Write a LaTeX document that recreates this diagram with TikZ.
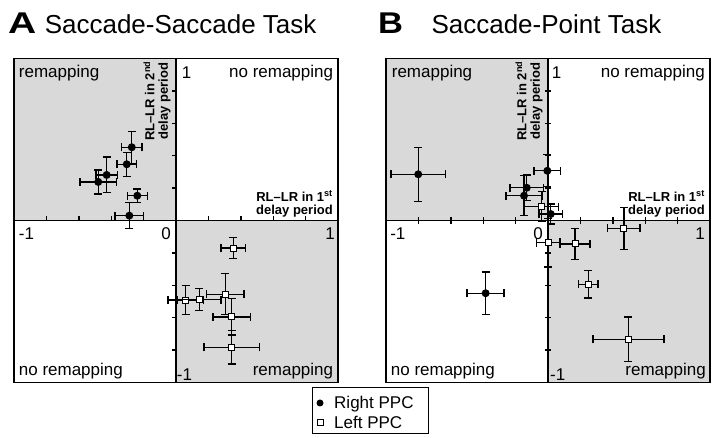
\documentclass[tikz,border=0pt]{standalone}
\usepackage{fontspec}
\setmainfont{Liberation Sans}
\usetikzlibrary{positioning}

\begin{document}
\begin{tikzpicture}[x=1pt,y=1pt,
  quad/.style={font=\fontsize{17}{20}\selectfont,inner sep=0pt},
  axlab/.style={font=\fontsize{13}{13.5}\selectfont\bfseries,inner sep=0pt,align=center},
  panlab/.style={font=\fontsize{30}{30}\selectfont\bfseries,inner sep=0pt},
  tasklab/.style={font=\fontsize{26}{26}\selectfont,inner sep=0pt},
  errbar/.style={line width=1.4pt},
  frame/.style={line width=1.5pt},
  shade/.style={fill=black!15},
  rppc/.style={fill=black},
  lppc/.style={fill=white,draw=black,line width=1pt}]
\useasboundingbox (0,0) rectangle (720,438);
\fill[color=white] (0,0) rectangle (720,438);
% titles
\node[panlab,anchor=base west] (labA) at (8,404) {\scalebox{1.3}[1]{A}};
\node[tasklab,base right=8pt of labA] (taskA) {Saccade-Saccade Task};
\node[panlab,anchor=base west] (labB) at (378,404) {\scalebox{1.15}[1]{B}};
\node[tasklab,base right=28pt of labB] (taskB) {Saccade-Point Task};
\begin{scope}[shift={(176pt,217.5pt)},x=162pt,y=162pt] %A
  \fill[shade] (-1,0) rectangle (0,1);
  \fill[shade] (0,-1) rectangle (1,0);
  \foreach \t in {-0.8,-0.6,-0.4,-0.2,0.2,0.4,0.6,0.8} {
    \draw[errbar] (\t,0) -- (\t,0.025);
    \draw[errbar] (0,\t) -- (-0.025,\t);
  }
  \draw[frame] (-1,0) -- (1,0);
  \draw[frame] (0,-1) -- (0,1);
  \draw[frame] (-1,-1) rectangle (1,1);
  \node[quad,anchor=base west] (remA) at (-0.971,0.880) {remapping};
  \node[quad,anchor=base east] (noremA) at (0.971,0.880) {no remapping};
  \node[quad,anchor=base west] (noremAb) at (-0.971,-0.954) {no remapping};
  \node[quad,anchor=base east] (remAb) at (0.971,-0.954) {remapping};
  \node[quad,anchor=base west] (topA) at (0.035,0.878) {1};
  \node[quad,anchor=base west] (leftA) at (-0.971,-0.12) {-1};
  \node[quad,anchor=base east] (zeroA) at (-0.031,-0.12) {0};
  \node[quad,anchor=base east] (rightA) at (0.981,-0.12) {1};
  \node[quad,anchor=base west] (botA) at (0.004,-0.985) {-1};
  \node[axlab,rotate=90] (ylabA) at (-0.117,0.738) {RL--LR in 2\textsuperscript{nd}\\delay period};
  \node[axlab,anchor=east,align=right] (xlabA) at (0.969,0.102) {RL--LR in 1\textsuperscript{st}\\delay period};
  % right PPC
  \foreach \mx/\my/\ex/\ey in {-0.273/0.452/0.062/0.099,-0.304/0.347/0.059/0.074,
      -0.428/0.281/0.067/0.110,-0.480/0.238/0.113/0.074,-0.239/0.153/0.062/0.041,
      -0.288/0.030/0.088/0.080} {
    \draw[errbar] (\mx-\ex,\my) -- (\mx+\ex,\my);
    \draw[errbar] (\mx,\my-\ey) -- (\mx,\my+\ey);
    \draw[errbar] (\mx-\ex,\my-0.025) -- (\mx-\ex,\my+0.025);
    \draw[errbar] (\mx+\ex,\my-0.025) -- (\mx+\ex,\my+0.025);
    \draw[errbar] (\mx-0.025,\my-\ey) -- (\mx+0.025,\my-\ey);
    \draw[errbar] (\mx-0.025,\my+\ey) -- (\mx+0.025,\my+\ey);
    \fill[rppc] (\mx,\my) circle[radius=4pt];
  }
  % left PPC
  \foreach \mx/\my/\ex/\ey in {0.354/-0.170/0.076/0.066,0.060/-0.491/0.110/0.090,
      0.144/-0.489/0.135/0.068,0.304/-0.455/0.116/0.127,0.344/-0.595/0.115/0.113,
      0.344/-0.783/0.172/0.103} {
    \draw[errbar] (\mx-\ex,\my) -- (\mx+\ex,\my);
    \draw[errbar] (\mx,\my-\ey) -- (\mx,\my+\ey);
    \draw[errbar] (\mx-\ex,\my-0.025) -- (\mx-\ex,\my+0.025);
    \draw[errbar] (\mx+\ex,\my-0.025) -- (\mx+\ex,\my+0.025);
    \draw[errbar] (\mx-0.025,\my-\ey) -- (\mx+0.025,\my-\ey);
    \draw[errbar] (\mx-0.025,\my+\ey) -- (\mx+0.025,\my+\ey);
    \filldraw[lppc] (\mx,\my) ++(-3pt,-3pt) rectangle ++(6pt,6pt);
  }
\end{scope}
\begin{scope}[shift={(548pt,217.5pt)},x=162pt,y=162pt] %B
  \fill[shade] (-1,0) rectangle (0,1);
  \fill[shade] (0,-1) rectangle (1,0);
  \foreach \t in {-0.8,-0.6,-0.4,-0.2,0.2,0.4,0.6,0.8} {
    \draw[errbar] (\t,-0.02) -- (\t,0.02);
    \draw[errbar] (-0.02,\t) -- (0.02,\t);
  }
  \draw[frame] (-1,0) -- (1,0);
  \draw[frame] (0,-1) -- (0,1);
  \draw[frame] (-1,-1) rectangle (1,1);
  \node[quad,anchor=base west] (remB) at (-0.965,0.880) {remapping};
  \node[quad,anchor=base east] (noremB) at (0.969,0.880) {no remapping};
  \node[quad,anchor=base west] (noremBb) at (-0.971,-0.954) {no remapping};
  \node[quad,anchor=base east] (remBb) at (0.975,-0.954) {remapping};
  \node[quad,anchor=base west] (topB) at (0.023,0.878) {1};
  \node[quad,anchor=base west] (leftB) at (-0.975,-0.12) {-1};
  \node[quad,anchor=base east] (zeroB) at (-0.03,-0.12) {0};
  \node[quad,anchor=base east] (rightB) at (0.969,-0.12) {1};
  \node[quad,anchor=base west] (botB) at (0.012,-0.985) {-1};
  \node[axlab,rotate=90] (ylabB) at (-0.117,0.738) {RL--LR in 2\textsuperscript{nd}\\delay period};
  \node[axlab,anchor=east,align=right] (xlabB) at (0.969,0.102) {RL--LR in 1\textsuperscript{st}\\delay period};
  % right PPC
  \foreach \mx/\my/\ex/\ey in {-0.801/0.285/0.168/0.167,-0.004/0.307/0.082/0.099,
      -0.131/0.202/0.103/0.080,-0.148/0.153/0.111/0.123,0.017/0.040/0.072/0.062,
      -0.385/-0.449/0.114/0.131} {
    \draw[errbar] (\mx-\ex,\my) -- (\mx+\ex,\my);
    \draw[errbar] (\mx,\my-\ey) -- (\mx,\my+\ey);
    \draw[errbar] (\mx-\ex,\my-0.025) -- (\mx-\ex,\my+0.025);
    \draw[errbar] (\mx+\ex,\my-0.025) -- (\mx+\ex,\my+0.025);
    \draw[errbar] (\mx-0.025,\my-\ey) -- (\mx+0.025,\my-\ey);
    \draw[errbar] (\mx-0.025,\my+\ey) -- (\mx+0.025,\my+\ey);
    \fill[rppc] (\mx,\my) circle[radius=4pt];
  }
  % left PPC
  \foreach \mx/\my/\ex/\ey in {-0.039/0.085/0.105/0.093,0.002/-0.136/0.072/0.150,
      0.167/-0.145/0.093/0.094,0.469/-0.048/0.100/0.130,0.249/-0.394/0.060/0.085,
      0.496/-0.733/0.219/0.137} {
    \draw[errbar] (\mx-\ex,\my) -- (\mx+\ex,\my);
    \draw[errbar] (\mx,\my-\ey) -- (\mx,\my+\ey);
    \draw[errbar] (\mx-\ex,\my-0.025) -- (\mx-\ex,\my+0.025);
    \draw[errbar] (\mx+\ex,\my-0.025) -- (\mx+\ex,\my+0.025);
    \draw[errbar] (\mx-0.025,\my-\ey) -- (\mx+0.025,\my-\ey);
    \draw[errbar] (\mx-0.025,\my+\ey) -- (\mx+0.025,\my+\ey);
    \filldraw[lppc] (\mx,\my) ++(-3pt,-3pt) rectangle ++(6pt,6pt);
  }
\end{scope}
% legend
\draw[line width=1pt] (312,4) rectangle (428,50);
\node[quad,anchor=base west] (legR) at (334,29) {Right PPC};
\node[quad,anchor=base west] (legL) at (334,9) {Left PPC};
\fill[rppc] (320,35) circle[radius=3.5pt];
\filldraw[lppc] (317,12) rectangle (323,18);
\end{tikzpicture}
\end{document}
